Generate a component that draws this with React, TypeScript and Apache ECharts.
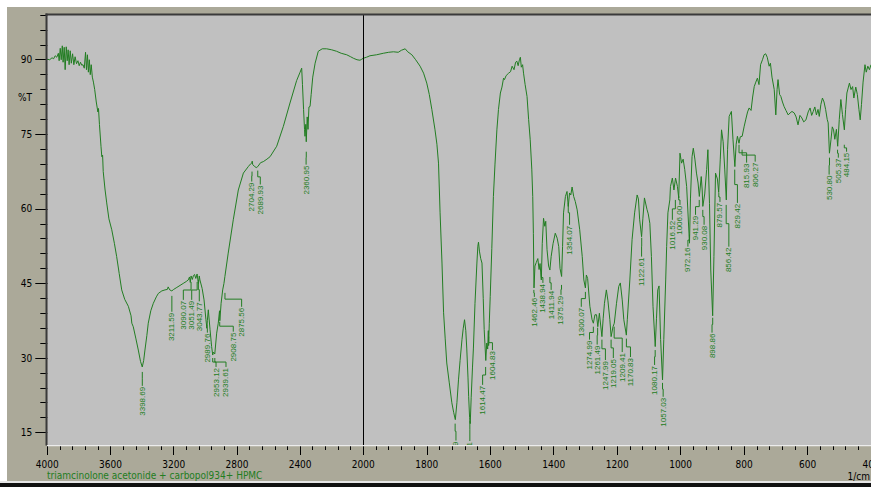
import React, { useEffect, useRef } from "react";
import * as echarts from "echarts";

// Spectrum: wavenumber (1/cm) and %T
const wavenumbers = [
  4000, 3985, 3970, 3960, 3950, 3940, 3930, 3925, 3918, 3912, 3905, 3900, 3893, 3887, 3880, 3874, 3868, 3862, 3855, 3848,
  3840, 3832, 3824, 3815, 3806, 3798, 3790, 3782, 3774, 3766, 3758, 3752, 3746, 3740, 3734, 3728, 3722, 3715, 3708, 3700,
  3690, 3680, 3676, 3670, 3660, 3655, 3650, 3646, 3635, 3624, 3610, 3592, 3575, 3561, 3545, 3529, 3510, 3487, 3470, 3465,
  3456, 3440, 3424, 3410, 3399, 3390, 3382, 3370, 3361, 3345, 3329, 3310, 3297, 3275, 3255, 3240, 3235, 3225, 3212, 3200,
  3180, 3160, 3140, 3120, 3108, 3100, 3095, 3090, 3082, 3075, 3068, 3060, 3052, 3046, 3043, 3038, 3034, 3020, 3008, 2996,
  2990, 2987, 2981, 2970, 2960, 2953, 2949, 2940, 2928, 2918, 2910, 2908, 2900, 2890, 2882, 2876, 2855, 2823, 2791, 2759,
  2728, 2715, 2706, 2703, 2700, 2690, 2678, 2668, 2650, 2633, 2610, 2590, 2548, 2506, 2464, 2422, 2400, 2390, 2385, 2378,
  2372, 2369, 2364, 2361, 2355, 2350, 2344, 2337, 2330, 2320, 2305, 2285, 2260, 2232, 2200, 2169, 2140, 2105, 2080, 2063,
  2040, 2021, 2010, 2000,
  1990, 1979, 1958, 1937, 1920, 1905, 1890, 1880, 1868, 1860, 1847, 1835, 1821, 1810, 1800, 1792, 1784, 1774, 1768, 1763,
  1758, 1752, 1747, 1742, 1737, 1729, 1721, 1715, 1710, 1705, 1700, 1695, 1689, 1685, 1681, 1677, 1674, 1670, 1668, 1665,
  1663, 1660, 1656, 1653, 1648, 1642, 1639, 1637, 1634, 1630, 1626, 1622, 1619, 1614, 1611, 1608, 1606, 1605, 1603, 1600,
  1595, 1590, 1585, 1579, 1574, 1568, 1563, 1558, 1555, 1550, 1542, 1536, 1531, 1525, 1520, 1516, 1512, 1508, 1505, 1502,
  1498, 1495, 1490, 1484, 1479, 1474, 1469, 1466, 1464, 1462, 1459, 1455, 1450, 1446, 1443, 1439, 1436, 1432, 1428, 1425,
  1421, 1416, 1412, 1408, 1402, 1395, 1389, 1384, 1380, 1375, 1372, 1369, 1363, 1358, 1354, 1350, 1346, 1342, 1337, 1332,
  1326, 1318, 1310, 1305, 1300, 1297, 1293, 1286, 1279, 1275, 1270, 1265, 1261, 1256, 1248, 1244, 1240, 1234, 1229, 1223,
  1219, 1213, 1209, 1202, 1195, 1190, 1184, 1179, 1171, 1168, 1160, 1153, 1145, 1137, 1133, 1129, 1123, 1119, 1114, 1106,
  1102, 1097, 1092, 1087, 1080, 1076, 1072, 1068, 1063, 1057, 1053, 1047, 1044, 1040, 1034, 1032, 1026, 1021, 1016, 1010,
  1006, 1002, 997, 992, 987, 981, 972, 969, 964, 960, 955, 950, 945, 941, 935, 932, 930, 924, 918, 914,
  909, 905, 899, 895, 890, 884, 880, 875, 871, 866, 861, 856, 852, 847, 840, 835, 829, 825, 821, 816,
  812, 806, 800, 795, 789, 784, 778, 773, 768, 763, 758, 753, 748, 742, 737, 732, 727, 721, 717, 712,
  705, 700, 696, 693, 688, 684, 679, 674, 668, 661, 655, 649, 642, 636, 630, 624, 618, 612, 605, 598,
  592, 587, 582, 577, 572, 567, 563, 558, 553, 548, 543, 538, 535, 531, 526, 522, 518, 514, 509, 505,
  500, 495, 490, 484, 480, 476, 468, 463, 458, 454, 448, 443, 438, 434, 430, 425, 419, 415, 410, 405,
  400,
];

const transmittance = [
  90.1, 90.0, 90.4, 90.2, 90.8, 90.5, 91.3, 89.8, 92.3, 90.0, 92.8, 89.5, 92.5, 88.0, 92.6, 89.8, 92.0, 89.0, 91.8, 89.3,
  91.2, 89.0, 90.6, 89.2, 89.8, 88.8, 89.5, 88.9, 89.0, 88.3, 91.5, 88.0, 91.0, 87.5, 90.0, 87.0, 89.0, 86.5, 85.5, 84.0,
  81.5, 79.5, 80.2, 77.0, 72.5, 70.5, 70.8, 67.5, 64.0, 61.2, 58.0, 55.8, 53.0, 50.4, 47.0, 43.7, 41.8, 40.4, 38.5, 37.0,
  36.3, 34.0, 31.6, 29.3, 28.2, 29.5, 31.6, 34.5, 37.0, 39.5, 41.0, 42.3, 43.0, 43.5, 43.7, 43.8, 44.3, 43.7, 43.5, 43.8,
  44.2, 44.6, 45.0, 45.4, 45.7, 46.3, 45.2, 46.5, 45.8, 46.6, 46.8, 46.0, 46.9, 45.5, 45.0, 46.5, 45.7, 44.0, 41.7, 37.7,
  36.0, 37.5, 39.7, 35.7, 32.3, 30.6, 31.2, 30.8, 35.0, 37.0, 39.5, 37.5, 41.0, 43.7, 45.0, 46.4, 51.1, 57.8, 63.8, 67.2,
  68.5, 69.0, 69.2, 69.6, 68.9, 68.6, 68.3, 68.5, 69.3, 69.5, 70.0, 70.5, 72.6, 76.6, 81.3, 85.8, 87.5, 88.3, 85.0, 80.0,
  76.0, 74.6, 77.0, 73.5, 78.5, 76.0, 80.5, 80.6, 83.0, 86.5, 89.3, 91.7, 92.2, 92.2, 92.0, 91.7, 91.3, 91.0, 90.6, 90.3,
  90.0, 89.9, 90.1, 90.3,
  90.5, 90.8, 91.0, 91.3, 91.5, 91.6, 91.5, 91.9, 92.2, 91.6, 91.0, 90.0, 88.7, 87.3, 85.3, 83.0, 80.0, 75.9, 73.0, 69.2,
  59.2, 49.1, 39.1, 34.0, 29.0, 25.0, 21.0, 19.0, 17.6, 21.0, 25.6, 29.5, 33.7, 36.0, 37.7, 35.5, 32.0, 26.0, 22.3, 18.0,
  16.8, 22.0, 28.0, 32.0, 41.0, 49.1, 52.5, 53.3, 51.5, 50.0, 49.1, 42.0, 35.7, 29.5, 33.0, 31.8, 35.5, 32.5, 37.0, 42.4,
  52.0, 62.5, 69.0, 75.9, 80.0, 83.3, 84.5, 86.3, 86.0, 86.8, 87.3, 87.6, 88.7, 88.0, 89.5, 89.7, 88.8, 90.0, 90.5, 88.5,
  89.0, 87.3, 85.0, 82.6, 78.0, 73.9, 68.0, 62.5, 55.0, 44.1, 48.5, 49.2, 50.0, 47.8, 49.0, 45.7, 53.0, 58.1, 56.5, 57.5,
  51.8, 48.5, 47.7, 50.4, 53.0, 55.1, 54.1, 52.4, 48.0, 46.4, 52.4, 59.2, 62.5, 63.5, 60.5, 63.2, 62.8, 64.4, 62.5, 61.5,
  59.8, 55.8, 50.4, 45.7, 44.1, 46.7, 46.0, 40.4, 37.7, 37.0, 38.7, 38.7, 36.3, 39.0, 34.3, 38.0, 41.0, 43.7, 41.5, 37.7,
  34.3, 36.3, 37.0, 41.0, 44.4, 45.1, 41.7, 37.7, 34.6, 37.7, 45.7, 53.8, 59.2, 62.8, 62.0, 57.8, 54.4, 58.0, 62.2, 59.9,
  59.0, 57.1, 50.4, 40.4, 32.3, 38.0, 43.7, 44.5, 33.7, 25.6, 33.7, 45.7, 52.4, 59.2, 61.8, 64.5, 66.2, 63.8, 66.2, 64.5,
  62.2, 71.2, 69.2, 70.0, 67.9, 64.5, 53.1, 62.0, 70.5, 72.2, 70.0, 67.2, 65.2, 62.5, 66.5, 63.8, 60.5, 63.0, 67.9, 71.9,
  61.1, 47.7, 38.5, 50.4, 67.2, 66.0, 63.3, 70.0, 75.9, 73.5, 68.0, 61.8, 72.0, 78.6, 79.6, 74.0, 68.5, 73.0, 74.6, 73.2,
  74.5, 74.6, 76.5, 77.9, 79.5, 80.3, 79.8, 82.5, 84.6, 85.5, 86.3, 85.0, 89.0, 90.0, 91.0, 91.2, 90.5, 88.7, 89.3, 86.5,
  84.0, 78.9, 84.0, 86.0, 83.0, 82.6, 81.5, 80.6, 79.8, 78.9, 79.3, 79.6, 79.3, 78.5, 76.9, 78.8, 78.3, 77.5, 77.9, 79.5,
  80.3, 78.8, 79.6, 80.5, 78.9, 80.0, 78.6, 81.0, 82.3, 81.5, 80.0, 78.0, 77.3, 71.2, 74.0, 76.5, 75.9, 74.0, 76.0, 72.6,
  78.0, 82.0, 79.0, 75.9, 80.0, 83.3, 85.3, 84.0, 84.6, 82.3, 84.5, 83.0, 80.0, 77.9, 81.0, 85.5, 89.0, 87.5, 88.7, 88.0,
  89.0,
];

// Peak annotations
const peakLabels = [
  "3398.69", "3211.59", "3090.07", "3051.49", "3043.77", "2989.76", "2953.12", "2939.61", "2908.75", "2875.56",
  "2704.29", "2689.93", "2360.95",
  "1710.59", "1664.21", "1614.47", "1604.83", "1462.46", "1438.94", "1411.94", "1375.29", "1354.07", "1300.07",
  "1274.99", "1261.49", "1247.99", "1219.05", "1209.41", "1170.83", "1122.61", "1080.17", "1057.03", "1016.52",
  "1006.00", "972.16", "941.29", "930.08", "898.86", "879.57", "856.42", "829.42", "815.93", "806.27",
  "530.80", "505.37", "484.15",
];
const peakNu = [
  3398.69, 3211.59, 3090.07, 3051.49, 3043.77, 2989.76, 2953.12, 2939.61, 2908.75, 2875.56,
  2704.29, 2668, 2360.95,
  1710.59, 1664.21, 1614.47, 1604.83, 1462.46, 1438.94, 1411.94, 1375.29, 1354.07, 1300.07,
  1274.99, 1261.49, 1247.99, 1219.05, 1209.41, 1170.83, 1122.61, 1080.17, 1057.03, 1016.52,
  1006.0, 972.16, 941.29, 930.08, 898.86, 879.57, 856.42, 829.42, 815.93, 806.27,
  530.8, 505.37, 484.15,
];
const leaderT = [
  27.2, 42.5, 45.3, 45.3, 45.7, 36.7, 30.0, 30.0, 37.3, 43.1,
  67.5, 67.7, 71.5,
  16.8, 17.4, 28.2, 34.3, 43.7, 47.1, 46.3, 44.7, 61.2, 43.3,
  36.3, 36.1, 33.7, 33.7, 36.3, 33.9, 54.2, 31.6, 25.0, 61.8,
  62.6, 54.8, 61.8, 59.8, 38.1, 63.2, 60.8, 67.9, 72.9, 71.9,
  70.3, 71.9, 72.9,
];
const labelNu = [
  3398.69, 3211.59, 3139, 3086, 3038, 2987, 2932, 2869, 2823, 2770,
  2706, 2652, 2362,
  1708, 1664.21, 1624, 1593, 1461, 1434, 1408, 1377, 1350, 1313,
  1287, 1263, 1237, 1212, 1184, 1158, 1123, 1082, 1055, 1026,
  1002, 977, 953, 926, 901, 876, 848, 821, 792, 765,
  532, 503, 477,
];
const labelT = [
  24.4, 39.3, 41.7, 41.7, 41.4, 35.1, 28.2, 28.2, 35.3, 40.3,
  65.5, 64.9, 68.9,
  13.4, 13.3, 24.6, 31.6, 42.3, 45.1, 43.7, 42.7, 56.8, 40.3,
  33.7, 32.7, 29.6, 30.0, 31.2, 30.2, 50.4, 28.6, 22.2, 57.8,
  60.8, 52.4, 58.8, 56.8, 35.1, 61.4, 52.4, 61.2, 69.3, 69.5,
  66.9, 70.3, 71.5,
];

const yMajorTicks = [15, 30, 45, 60, 75, 90];
const leftMajorTicks = [4000, 3600, 3200, 2800, 2400];
const rightMajorTicks = [2000, 1800, 1600, 1400, 1200, 1000, 800, 600, 400];

const GREEN = "#227d22";
const TAN = "#aba999";
const PLOT = "#c0c0c0";
const NARROW = "'Liberation Sans Narrow','DejaVu Sans Condensed','Liberation Sans',sans-serif";

const Y_MIN = 12.5;
const Y_MAX = 99;

function range(from: number, to: number, step: number) {
  const out: number[] = [];
  if (step > 0) for (let v = from; v <= to + 1e-9; v += step) out.push(v);
  else for (let v = from; v >= to - 1e-9; v += step) out.push(v);
  return out;
}

export default function App() {
  const ref = useRef<HTMLDivElement>(null);

  useEffect(() => {
    if (!ref.current) return;
    const chart = echarts.init(ref.current, undefined, { renderer: "svg" });

    const pairs = wavenumbers.map((w, i) => [w, transmittance[i]]);
    const leftData = pairs.filter((p) => p[0] >= 2000);
    const rightData = pairs.filter((p) => p[0] <= 2000);

    const labelItems = peakLabels.map((_, i) => [peakNu[i], leaderT[i], labelNu[i], labelT[i], i]);
    const leftLabels = labelItems.filter((d) => d[0] >= 2000);
    const rightLabels = labelItems.filter((d) => d[0] < 2000);

    const renderLabel = (_params: any, api: any) => {
      const i = api.value(4);
      const p0 = api.coord([api.value(0), api.value(1)]);
      const p1 = api.coord([api.value(2), api.value(3)]);
      const m = p0[1] + (p1[1] - p0[1]) * 0.45;
      return {
        type: "group",
        children: [
          {
            type: "polyline",
            shape: { points: [p0, [p0[0], m], [p1[0], m], [p1[0], p1[1]]] },
            style: { stroke: GREEN, fill: "none", lineWidth: 1 },
          },
          {
            type: "text",
            x: p1[0],
            y: p1[1] + 1,
            rotation: Math.PI / 2,
            style: {
              text: peakLabels[i],
              fill: GREEN,
              font: "8px 'Liberation Sans', sans-serif",
              align: "right",
              verticalAlign: "middle",
              textAlign: "right",
              textVerticalAlign: "middle",
            },
          },
        ],
      };
    };

    const fmt = (v: number) => String(v);
    const axisLabelStyle = { color: "#000", fontSize: 10, fontFamily: NARROW, formatter: fmt };

    const option: any = {
      animation: false,
      backgroundColor: "#ffffff",
      grid: [
        { left: 47.3, top: 15, width: 316, height: 430, show: true, backgroundColor: PLOT, borderWidth: 0, containLabel: false, outerBoundsMode: "none" },
        { left: 363.3, top: 15, width: 507.7, height: 430, show: true, backgroundColor: PLOT, borderWidth: 0, containLabel: false, outerBoundsMode: "none" },
      ],
      xAxis: [
        {
          type: "value", gridIndex: 0, min: 2000, max: 4000, inverse: true, position: "bottom",
          axisLine: { show: false }, splitLine: { show: false },
          axisTick: { show: true, length: 10, lineStyle: { color: "#000" }, customValues: leftMajorTicks },
          axisLabel: { ...axisLabelStyle, margin: 14, customValues: leftMajorTicks },
        },
        {
          type: "value", gridIndex: 0, min: 2000, max: 4000, inverse: true, position: "bottom",
          axisLine: { show: false }, splitLine: { show: false },
          axisTick: { show: true, length: 5, lineStyle: { color: "#000" }, customValues: range(4000, 2080, -80) },
          axisLabel: { show: false },
        },
        {
          type: "value", gridIndex: 1, min: 400, max: 2000, inverse: true, position: "bottom",
          axisLine: { show: false }, splitLine: { show: false },
          axisTick: { show: true, length: 10, lineStyle: { color: "#000" }, customValues: rightMajorTicks },
          axisLabel: { ...axisLabelStyle, margin: 14, customValues: rightMajorTicks, hideOverlap: false },
        },
        {
          type: "value", gridIndex: 1, min: 400, max: 2000, inverse: true, position: "bottom",
          axisLine: { show: false }, splitLine: { show: false },
          axisTick: { show: true, length: 5, lineStyle: { color: "#000" }, customValues: range(2000, 400, -40) },
          axisLabel: { show: false },
        },
      ],
      yAxis: [
        {
          type: "value", gridIndex: 0, min: Y_MIN, max: Y_MAX, position: "left",
          axisLine: { show: false }, splitLine: { show: false },
          axisTick: { show: true, length: 12, lineStyle: { color: "#000" }, customValues: yMajorTicks },
          axisLabel: { ...axisLabelStyle, margin: 15, customValues: yMajorTicks },
        },
        {
          type: "value", gridIndex: 0, min: Y_MIN, max: Y_MAX, position: "left",
          axisLine: { show: false }, splitLine: { show: false },
          axisTick: { show: true, length: 7, lineStyle: { color: "#000" }, customValues: range(18, 99, 3) },
          axisLabel: { show: false },
        },
        {
          type: "value", gridIndex: 1, min: Y_MIN, max: Y_MAX, show: false,
        },
      ],
      series: [
        {
          type: "line", xAxisIndex: 0, yAxisIndex: 0, data: leftData, showSymbol: false, symbol: "none",
          lineStyle: { color: GREEN, width: 1 }, silent: true, clip: true, z: 3,
        },
        {
          type: "line", xAxisIndex: 2, yAxisIndex: 2, data: rightData, showSymbol: false, symbol: "none",
          lineStyle: { color: GREEN, width: 1 }, silent: true, clip: true, z: 3,
          markLine: {
            silent: true, symbol: "none", label: { show: false },
            lineStyle: { color: "#000", width: 1, type: "solid" },
            data: [{ xAxis: 2000 }],
          },
        },
        { type: "custom", xAxisIndex: 0, yAxisIndex: 0, data: leftLabels, renderItem: renderLabel, clip: true, silent: true, z: 4 },
        { type: "custom", xAxisIndex: 2, yAxisIndex: 2, data: rightLabels, renderItem: renderLabel, clip: true, silent: true, z: 4 },
      ],
      graphic: [
        { type: "rect", z: -20, shape: { x: 7, y: 7, width: 864, height: 474 }, style: { fill: TAN } },
        { type: "rect", z: -20, shape: { x: 0, y: 481, width: 871, height: 2 }, style: { fill: "#e6e6e6" } },
        { type: "rect", z: -20, shape: { x: 0, y: 483, width: 871, height: 4 }, style: { fill: "#111" } },
        { type: "rect", z: 50, shape: { x: 45.5, y: 13.5, width: 826, height: 2 }, style: { fill: "#3a3a3a" } },
        { type: "rect", z: 50, shape: { x: 45.5, y: 13.5, width: 2, height: 432 }, style: { fill: "#3a3a3a" } },
        { type: "rect", z: 50, shape: { x: 47, y: 445, width: 824, height: 1.2 }, style: { fill: "#ececec" } },
        {
          type: "text", z: 50, x: 18, y: 97,
          style: { text: "%T", fill: "#000", font: "10px " + NARROW, textVerticalAlign: "middle", verticalAlign: "middle" },
        },
        {
          type: "text", z: 50, x: 870, y: 476,
          style: { text: "1/cm", fill: "#000", font: "10px " + NARROW, align: "right", textAlign: "right", verticalAlign: "middle", textVerticalAlign: "middle" },
        },
        {
          type: "text", z: 50, x: 47, y: 475,
          style: {
            text: "triamcinolone acetonide + carbopol934+ HPMC", fill: GREEN, font: "10px " + NARROW,
            verticalAlign: "middle", textVerticalAlign: "middle",
          },
        },
      ],
    };

    chart.setOption(option);
    return () => chart.dispose();
  }, []);

  return (
    <div
      ref={ref}
      style={{ position: "fixed", left: 0, top: 0, width: 871, height: 487 }}
    />
  );
}
